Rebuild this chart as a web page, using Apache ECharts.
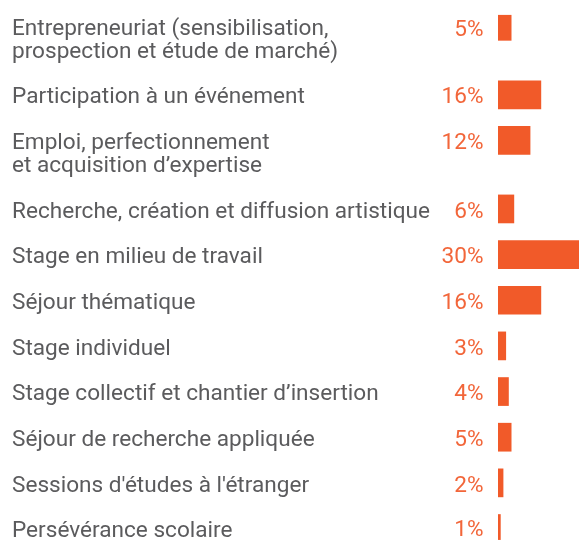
<!DOCTYPE html>
<html>
<head>
<meta charset="utf-8">
<script src="https://cdn.jsdelivr.net/npm/echarts@6/dist/echarts.min.js"></script>
<style>
  html, body { margin: 0; padding: 0; background: #fff; }
  #viz { width: 579px; height: 543px; }
</style>
</head>
<body>
<div id="viz"></div>
<script>
// categories (\n = line break in the label), top to bottom
var activites = [
  "Entrepreneuriat (sensibilisation,\nprospection et étude de marché)",
  "Participation à un événement",
  "Emploi, perfectionnement\net acquisition d’expertise",
  "Recherche, création et diffusion artistique",
  "Stage en milieu de travail",
  "Séjour thématique",
  "Stage individuel",
  "Stage collectif et chantier d’insertion",
  "Séjour de recherche appliquée",
  "Sessions d'études à l'étranger",
  "Persévérance scolaire"
];
// share of projects, %
var parts = [5, 16, 12, 6, 30, 16, 3, 4, 5, 2, 1];

var orange = '#f15a29';
var gris = '#5b5b5d';

/* each label line takes one slot of the category axis, plus one empty slot between rows */
function buildSlots(){
  var lignes = [], valeurs = [];
  for (var i = 0; i < activites.length; i++){
    var l = activites[i].split('\n');
    for (var j = 0; j < l.length; j++){
      lignes.push(l[j]);
      valeurs.push(j == 0 ? parts[i] : '-');
    }
    if (i < activites.length - 1){
      lignes.push('');
      valeurs.push('-');
    }
  }
  return [lignes, valeurs];
}

function plotrun(){
  var dom = document.getElementById("viz");
  var myChart = echarts.init(dom);
  var slots = buildSlots();
  var lignes = slots[0];
  var valeurs = slots[1];

  var option = {
    animation: false,
    grid: {
      left: 498,
      top: 14.9,
      width: 83,
      bottom: 2.3
    },
    xAxis: {
      type: 'value',
      min: 0,
      max: 30,
      show: false
    },
    yAxis: {
      type: 'category',
      inverse: true,
      data: lignes.map(function(d, i){ return 's' + i; }),
      axisLine: { show: false },
      axisTick: { show: false },
      axisLabel: {
        interval: 0,
        align: 'left',
        margin: 486,
        color: gris,
        fontFamily: 'Roboto',
        fontSize: 22.6,
        formatter: function(v, idx){
          return lignes[idx] ? '{t|' + lignes[idx] + '}' : '';
        },
        rich: {
          t: {
            padding: [6, 0, 0, 0],
            color: gris,
            fontFamily: 'Roboto',
            fontSize: 22.6
          }
        }
      }
    },
    series: [{
      type: 'bar',
      data: valeurs,
      barWidth: 28.7,
      itemStyle: { color: orange },
      label: {
        show: true,
        position: 'left',
        distance: 14.5,
        offset: [0, 3],
        color: '#f2663a',
        fontFamily: 'Roboto',
        fontSize: 22.6,
        formatter: function(p){ return p.value + '%'; }
      }
    }]
  };
  myChart.setOption(option, true);
}

plotrun();
</script>
</body>
</html>
